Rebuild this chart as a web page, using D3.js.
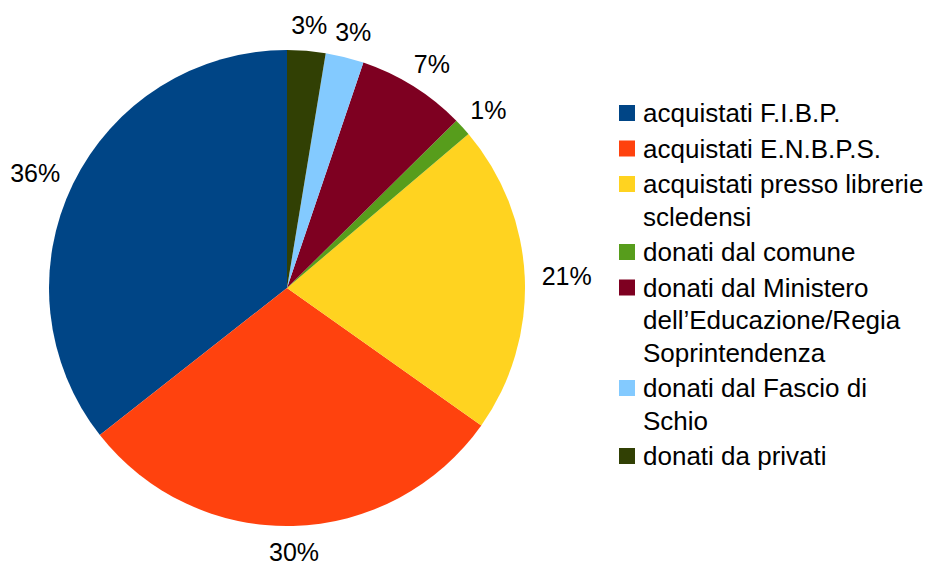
<!DOCTYPE html>
<html>
<head>
<meta charset="utf-8">
<script src="https://cdn.jsdelivr.net/npm/d3@7"></script>
<style>
  html, body { margin: 0; padding: 0; background: #fff; }
  svg { display: block; }
  text { font-family: "Liberation Sans", Arial, sans-serif; fill: #000; }
</style>
</head>
<body>
<svg id="chart" width="934" height="567"></svg>
<script>
// ---- data ----
const categories = [
  "acquistati F.I.B.P.",
  "acquistati E.N.B.P.S.",
  "acquistati presso librerie\nscledensi",
  "donati dal comune",
  "donati dal Ministero\ndell’Educazione/Regia\nSoprintendenza",
  "donati dal Fascio di\nSchio",
  "donati da privati"
];
const values = [35.6, 29.6, 21.0, 1.2, 7.4, 2.6, 2.6];
const colors = ["#004586", "#ff420e", "#ffd320", "#579d1c", "#7e0021", "#83caff", "#314004"];

// ---- layout ----
const svg = d3.select("#chart");
const cx = 287, cy = 288, radius = 238;
const labelFont = 25, legendFont = 26;

const total = d3.sum(values);
const pie = d3.pie().sort(null).value(d => d).startAngle(0).endAngle(-2 * Math.PI);
const arcs = pie(values);
const arc = d3.arc().innerRadius(0).outerRadius(radius);

const g = svg.append("g").attr("transform", `translate(${cx},${cy})`);
g.selectAll("path.slice")
  .data(arcs)
  .enter().append("path")
  .attr("class", "slice")
  .attr("d", arc)
  .attr("fill", (d, i) => colors[i]);

// percentage labels
const R0 = 255;
const capH = 0.716 * labelFont;
arcs.forEach((d, i) => {
  const a = (d.startAngle + d.endAngle) / 2;
  const label = Math.round(values[i] / total * 100) + "%";
  const t = g.append("text")
    .attr("font-size", labelFont)
    .attr("text-anchor", "middle")
    .text(label);
  const w = t.node().getComputedTextLength();
  const px = R0 * Math.sin(a), py = -R0 * Math.cos(a);
  const x = px + (w / 2) * Math.sin(a);
  const y = py - (capH / 2) * Math.cos(a);
  t.attr("x", x).attr("y", y + capH / 2);
});

// legend
const legX = 619, textX = 643, baseY0 = 122, lineH = 32.5, entryGap = 3, sq = 16;
const leg = svg.append("g");
let lineCount = 0;
categories.forEach((name, i) => {
  const lines = name.split("\n");
  const base = baseY0 + lineCount * lineH + i * entryGap;
  leg.append("rect")
    .attr("x", legX).attr("y", base - 17)
    .attr("width", sq).attr("height", sq)
    .attr("fill", colors[i]);
  const t = leg.append("text").attr("font-size", legendFont);
  lines.forEach((ln, j) => {
    t.append("tspan").attr("x", textX).attr("y", base + j * lineH).text(ln);
  });
  lineCount += lines.length;
});
</script>
</body>
</html>
